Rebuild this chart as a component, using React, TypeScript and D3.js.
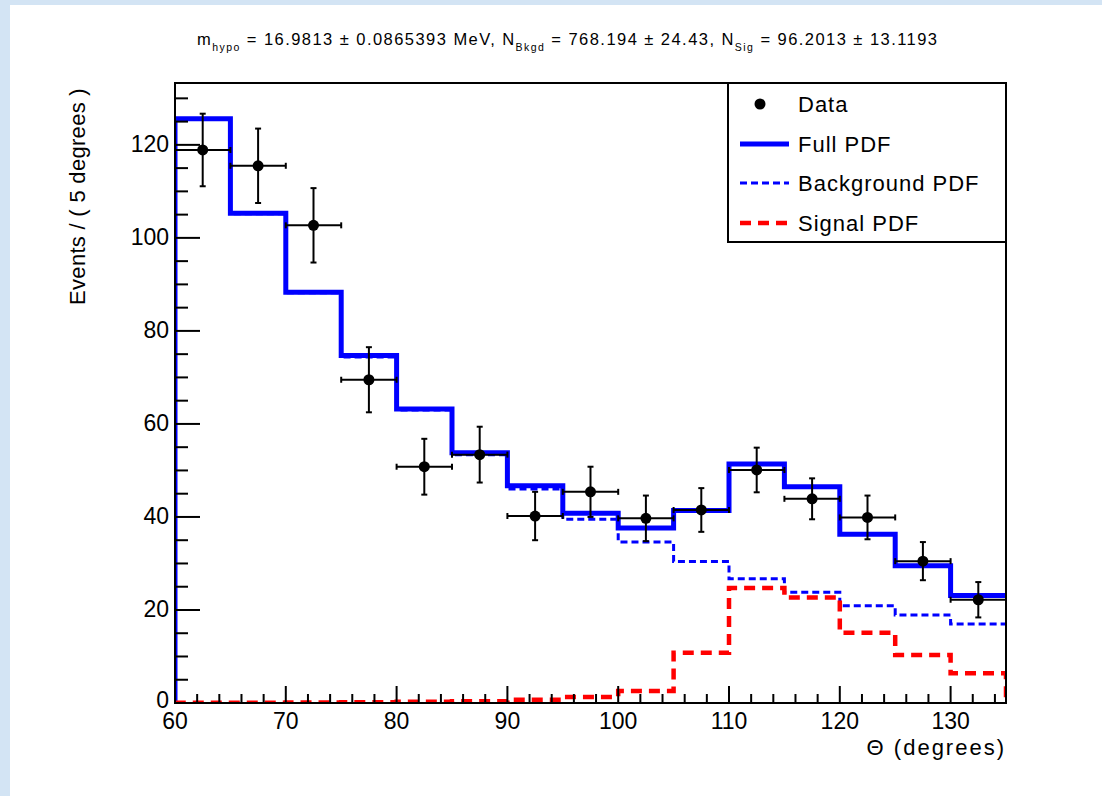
import React from 'react';
import * as d3 from 'd3';

// bins of 5 degrees, lower edges
const binLow = [60, 65, 70, 75, 80, 85, 90, 95, 100, 105, 110, 115, 120, 125, 130];
const binWidth = 5;

// data points (events per bin) and their errors
const dataValues = [118.9, 115.5, 102.7, 69.5, 50.8, 53.4, 40.2, 45.4, 39.7, 41.5, 50.1, 43.9, 39.9, 30.5, 22.2];
const dataErrors = [7.8, 8.0, 8.0, 7.0, 6.0, 6.0, 5.2, 5.4, 4.9, 4.7, 4.8, 4.4, 4.7, 4.1, 3.8];

// fitted pdf components
const fullPdf = [125.6, 105.3, 88.3, 74.7, 63.2, 53.8, 46.7, 40.8, 37.6, 41.4, 51.4, 46.5, 36.3, 29.5, 23.1];
const backgroundPdf = [125.5, 105.2, 88.2, 74.4, 63.0, 53.4, 46.0, 39.5, 34.6, 30.4, 26.7, 23.8, 20.9, 18.9, 17.0];
const signalPdf = [0.05, 0.05, 0.1, 0.15, 0.25, 0.4, 0.7, 1.3, 2.6, 10.8, 24.7, 22.7, 15.1, 10.3, 6.4];

const xTicks = [60, 70, 80, 90, 100, 110, 120, 130];
const yTicks = [0, 20, 40, 60, 80, 100, 120];

const legendItems = ['Data', 'Full PDF', 'Background PDF', 'Signal PDF'];

const W = 1102;
const H = 796;
const FONT = '"Liberation Sans", Arial, Helvetica, sans-serif';

type Pt = [number, number];

export default function App() {
  const x = d3.scaleLinear().domain([60, 135]).range([175, 1006]);
  const y = d3.scaleLinear().domain([0, 133.3]).range([703, 83]);
  const [x0, x1] = x.range();
  const [y0, y1] = y.range();

  const line = d3.line<Pt>().x(d => x(d[0])).y(d => y(d[1]));

  const steps = (vals: number[], dropAtEnd: boolean): Pt[] => {
    const pts: Pt[] = [[binLow[0], 0]];
    vals.forEach((v, i) => {
      pts.push([binLow[i], v]);
      pts.push([binLow[i] + binWidth, v]);
    });
    if (dropAtEnd) pts.push([binLow[binLow.length - 1] + binWidth, 0]);
    return pts;
  };

  const xMinor = d3.range(60, 135.01, 2).filter(v => !xTicks.includes(v));
  const yMinor = d3.range(0, 133.3, 5).filter(v => !yTicks.includes(v));

  const legX = 728;
  const legRows = [104, 144, 183, 223];

  return (
    <svg width={W} height={H} style={{ position: 'absolute', left: 0, top: 0 }} fontFamily={FONT}>
      <defs>
        <clipPath id="plotClip">
          <rect x={x0} y={y1} width={x1 - x0} height={y0 - y1} />
        </clipPath>
      </defs>
      <rect width={W} height={H} fill="#d3e4f4" />
      <rect x={10} y={5} width={W - 10} height={H - 5} fill="#ffffff" />

      {/* title */}
      <text x={197} y={45} fontSize={16.5} letterSpacing={1.45} fill="#000">
        <tspan>m</tspan>
        <tspan fontSize={10.5} dy={6}>hypo</tspan>
        <tspan dy={-6}> = 16.9813 ± 0.0865393 MeV, N</tspan>
        <tspan fontSize={10.5} dy={6}>Bkgd</tspan>
        <tspan dy={-6}> = 768.194 ± 24.43, N</tspan>
        <tspan fontSize={10.5} dy={6}>Sig</tspan>
        <tspan dy={-6}> = 96.2013 ± 13.1193</tspan>
      </text>

      {/* curves */}
      <g clipPath="url(#plotClip)" fill="none">
        <path d={line(steps(fullPdf, false)) || ''} stroke="#0000ff" strokeWidth={5} />
        <path d={line(steps(backgroundPdf, false)) || ''} stroke="#0000ff" strokeWidth={3} strokeDasharray="7,4" />
        <path d={line(steps(signalPdf, true)) || ''} stroke="#ff0000" strokeWidth={4.5} strokeDasharray="11,7" />
      </g>

      {/* data points */}
      <g stroke="#000" strokeWidth={2}>
        {dataValues.map((v, i) => {
          const cx = x(binLow[i] + binWidth / 2);
          const xl = x(binLow[i]);
          const xr = x(binLow[i] + binWidth);
          const cy = y(v);
          const yt = y(v + dataErrors[i]);
          const yb = y(v - dataErrors[i]);
          return (
            <g key={i}>
              <line x1={xl} x2={xr} y1={cy} y2={cy} />
              <line x1={xl} x2={xl} y1={cy - 3} y2={cy + 3} />
              <line x1={xr} x2={xr} y1={cy - 3} y2={cy + 3} />
              <line x1={cx} x2={cx} y1={yt} y2={yb} />
              <line x1={cx - 3} x2={cx + 3} y1={yt} y2={yt} />
              <line x1={cx - 3} x2={cx + 3} y1={yb} y2={yb} />
              <circle cx={cx} cy={cy} r={5.5} fill="#000" stroke="none" />
            </g>
          );
        })}
      </g>

      {/* frame and ticks */}
      <rect x={x0} y={y1} width={x1 - x0} height={y0 - y1} fill="none" stroke="#000" strokeWidth={2} />
      <g stroke="#000" strokeWidth={2}>
        {xTicks.map(t => (
          <line key={'xt' + t} x1={x(t)} x2={x(t)} y1={y0} y2={y0 - 17} />
        ))}
        {xMinor.map(t => (
          <line key={'xm' + t} x1={x(t)} x2={x(t)} y1={y0} y2={y0 - 9} />
        ))}
        {yTicks.map(t => (
          <line key={'yt' + t} x1={x0} x2={x0 + 25} y1={y(t)} y2={y(t)} />
        ))}
        {yMinor.map(t => (
          <line key={'ym' + t} x1={x0} x2={x0 + 13} y1={y(t)} y2={y(t)} />
        ))}
      </g>

      {/* tick labels */}
      <g fontSize={23} fill="#000">
        {xTicks.map(t => (
          <text key={'xl' + t} x={x(t)} y={729} textAnchor="middle">{t}</text>
        ))}
        {yTicks.map(t => (
          <text key={'yl' + t} x={169} y={y(t) + (t === 0 ? 5 : 7)} textAnchor="end">{t}</text>
        ))}
      </g>

      {/* axis titles */}
      <text x={x1} y={755} fontSize={22} letterSpacing={2} textAnchor="end" fill="#000">Θ (degrees)</text>
      <text transform={`translate(85, ${y1 + 5}) rotate(-90)`} fontSize={22} letterSpacing={0.3} textAnchor="end" fill="#000">
        Events / ( 5 degrees )
      </text>

      {/* legend */}
      <rect x={legX} y={y1} width={x1 - legX} height={159} fill="#fff" stroke="#000" strokeWidth={2} />
      <circle cx={760} cy={legRows[0]} r={5.5} fill="#000" />
      <line x1={740} x2={789} y1={legRows[1]} y2={legRows[1]} stroke="#0000ff" strokeWidth={5} />
      <line x1={740} x2={789} y1={legRows[2]} y2={legRows[2]} stroke="#0000ff" strokeWidth={3} strokeDasharray="7,4" />
      <line x1={740} x2={789} y1={legRows[3]} y2={legRows[3]} stroke="#ff0000" strokeWidth={4.5} strokeDasharray="11,7" />
      {legendItems.map((name, i) => (
        <text key={name} x={798} y={legRows[i] + 8} fontSize={22} letterSpacing={1} fill="#000">{name}</text>
      ))}
    </svg>
  );
}
